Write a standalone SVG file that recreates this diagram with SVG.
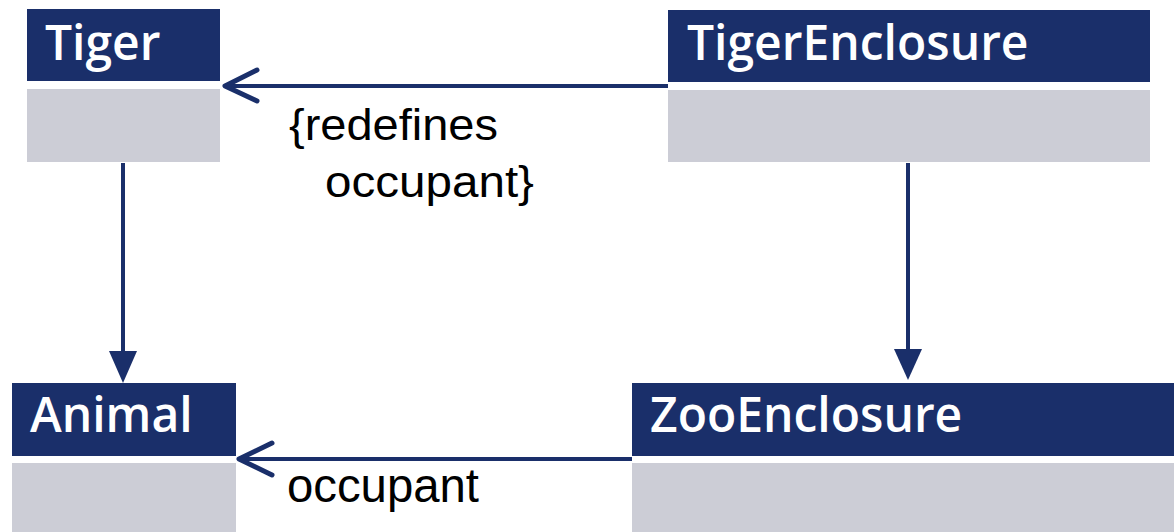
<svg xmlns="http://www.w3.org/2000/svg" width="1174" height="532" viewBox="0 0 1174 532">
<style>
.hdr{fill:#1a2f6a}
.body{fill:#cccdd6}
.title{fill:#ffffff;font-family:"Open Sans","DejaVu Sans",sans-serif;font-weight:600;font-size:48px}
.lbl{fill:#000000;font-family:"Liberation Sans",Arial,sans-serif;font-size:44px}
.lbl2{fill:#000000;font-family:"Liberation Sans",Arial,sans-serif;font-size:48px}
.ln{stroke:#1a2f6a;stroke-width:4;fill:none}
.open{stroke:#1a2f6a;stroke-width:5;fill:none;stroke-linecap:round;stroke-linejoin:round}
.head{fill:#1a2f6a}
</style>
<rect width="1174" height="532" fill="#ffffff"/>
<g id="Tiger">
<rect class="hdr" x="27" y="9" width="193" height="72"/>
<rect class="body" x="27" y="89" width="193" height="73"/>
<text class="title" x="45" y="60">Tiger</text>
</g>
<g id="TigerEnclosure">
<rect class="hdr" x="668" y="10" width="482" height="72"/>
<rect class="body" x="668" y="90" width="482" height="72"/>
<text class="title" x="687" y="60">TigerEnclosure</text>
</g>
<g id="Animal">
<rect class="hdr" x="12" y="383" width="224" height="73"/>
<rect class="body" x="12" y="463" width="224" height="69"/>
<text class="title" x="30" y="432">Animal</text>
</g>
<g id="ZooEnclosure">
<rect class="hdr" x="632" y="383" width="542" height="73"/>
<rect class="body" x="632" y="463" width="542" height="69"/>
<text class="title" x="650" y="432">ZooEnclosure</text>
</g>
<g id="connectors">
<line class="ln" x1="123" y1="163" x2="123" y2="352"/>
<path class="head" d="M109,351 L137,351 L123,383 Z"/>
<line class="ln" x1="908" y1="163" x2="908" y2="350"/>
<path class="head" d="M894,349 L922,349 L908,380 Z"/>
<line class="ln" x1="668" y1="86" x2="226" y2="86"/>
<path class="open" d="M257,70 L225,86 L257,101"/>
<line class="ln" x1="632" y1="459" x2="240" y2="459"/>
<path class="open" d="M272,443 L239,459 L272,475"/>
<text class="lbl" x="289" y="140" textLength="209" lengthAdjust="spacingAndGlyphs">{redefines</text>
<text class="lbl" x="325" y="197" textLength="209" lengthAdjust="spacingAndGlyphs">occupant}</text>
<text class="lbl2" x="287" y="502" textLength="192" lengthAdjust="spacingAndGlyphs">occupant</text>
</g>
</svg>
